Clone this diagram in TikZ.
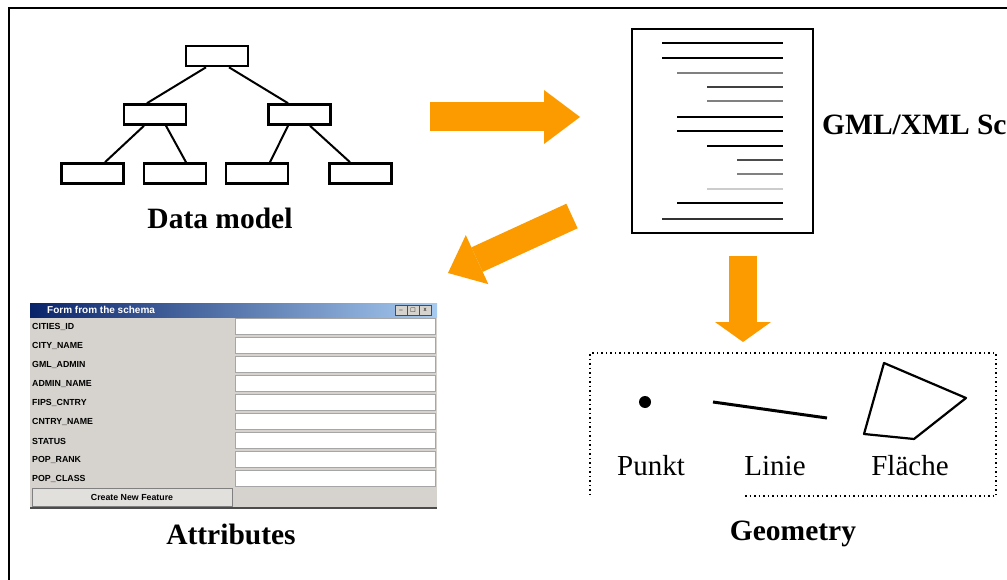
\documentclass[tikz,border=0pt]{standalone}
\usepackage{amssymb}
\usepackage{fontspec}
\setmainfont{Liberation Serif}
\newfontfamily\formfont{Liberation Sans}
\usetikzlibrary{arrows.meta}
\definecolor{arroworange}{RGB}{252,155,0}
\definecolor{formgray}{RGB}{214,211,206}
\definecolor{titleblue}{RGB}{10,36,106}
\definecolor{titlelight}{RGB}{166,202,240}

\begin{document}
\begin{tikzpicture}[x=1pt,y=-1pt,
  treebox/.style={draw, line width=2.6pt, minimum width=62pt, minimum height=20pt, inner sep=0pt},
  treeline/.style={line width=2pt},
  caption/.style={font=\fontsize{29.5}{32}\selectfont\bfseries, inner sep=0pt},
  geolabel/.style={font=\fontsize{29}{32}\selectfont, inner sep=0pt},
  fatarrow/.style n args={3}{draw=arroworange, line width=#1, -{Triangle[length=#2, width=#3, line width=0pt]}},
  formtext/.style={font=\formfont\fontsize{8.8}{9}\selectfont\bfseries, inner sep=0pt},
  textfield/.style={draw=gray!70, fill=white, line width=0.8pt}]
			\useasboundingbox (0,0) rectangle (1007,580);
			\clip (0,0) rectangle (1007,580);
			\draw [line width=2pt] (9,580) -- (9,8) -- (1007,8);

			\node [treebox] (root) at (217,56) {};
			\node [treebox] (midl) at (155,114.5) {};
			\node [treebox] (midr) at (299.5,114.5) {};
			\node [treebox] (leafa) at (92.5,173.5) {};
			\node [treebox] (leafb) at (175,173.5) {};
			\node [treebox] (leafc) at (257,173.5) {};
			\node [treebox] (leafd) at (360.5,173.5) {};
			\draw [treeline] ([xshift=-11pt]root.south) -- ([xshift=-8pt]midl.north);
			\draw [treeline] ([xshift=12pt]root.south) -- ([xshift=-11.5pt]midr.north);
			\draw [treeline] ([xshift=-11pt]midl.south) -- ([xshift=12.5pt]leafa.north);
			\draw [treeline] ([xshift=11pt]midl.south) -- ([xshift=11pt]leafb.north);
			\draw [treeline] ([xshift=-11.5pt]midr.south) -- ([xshift=13pt]leafc.north);
			\draw [treeline] ([xshift=10.5pt]midr.south) -- ([xshift=-10.5pt]leafd.north);
			\node [caption] (datamodel) at (220,218) {Data model};

			\node [draw, line width=2pt, minimum width=181pt, minimum height=204pt, inner sep=0pt] (schema) at (722.5,131) {};
			\foreach \y/\xs/\c/\w in {43/662/black/2.4, 58/662/black/1.8, 73/677/gray/2, 87/707/black!75/2.4,
				101/707/gray/2, 117/677/black/2.2, 131/677/black/1.8, 146/707/black/2, 160/737/black!70/2.2,
				174/737/gray/2, 189/707/gray!40/2, 203/677/black/2.4, 219/662/black!80/2}
				\draw [\c, line width=\w pt] (\xs,\y) -- (783,\y);
			\node [caption, anchor=west] (gmltext) at (822,124) {GML/XML Schema};

			\coordinate (modelout) at (430,117);
			\coordinate (schemain) at (580,117);
			\coordinate (schemaout) at (572,216);
			\coordinate (formin) at (448,273);
			\coordinate (geomout) at (743,256);
			\coordinate (geomin) at (743,342);
			\draw [fatarrow={29pt}{36pt}{54pt}] (modelout) -- (schemain);
			\draw [fatarrow={27pt}{32pt}{54pt}] (schemaout) -- (formin);
			\draw [fatarrow={28pt}{20pt}{56pt}] (geomout) -- (geomin);

			\fill [formgray] (30,303) rectangle (437,508);
			\shade [left color=titleblue, right color=titlelight] (30,303) rectangle (437,317);
			\node [formtext, text=white, anchor=west, font=\formfont\fontsize{10}{10}\selectfont\bfseries] (formtitle) at (47,310) {Form from the schema};
			\foreach \bx/\sym in {395/\_, 407/$\square$, 419/x}
				\node [draw=gray!60!black, fill=formgray, minimum width=12pt, minimum height=10pt, inner sep=0pt,
					font=\formfont\fontsize{6}{6}\selectfont] at (\bx+6,310) {\sym};
			\foreach \lbl [count=\i from 0] in {CITIES\_ID, CITY\_NAME, GML\_ADMIN, ADMIN\_NAME, FIPS\_CNTRY,
				CNTRY\_NAME, STATUS, POP\_RANK, POP\_CLASS} {
				\node [formtext, anchor=west] (field\i) at (32,327+19*\i) {\lbl};
				\draw [textfield] (235,318+19*\i) rectangle (435,334+19*\i);
			}
			\node [formtext, draw=gray, fill=formgray!70!white, minimum width=200pt, minimum height=18pt] (createbtn) at (132,497) {Create New Feature};
			\draw [gray!60!black, line width=1.5pt] (30,508) -- (437,508);
			\node [caption] (attributes) at (231,534) {Attributes};

			\draw [dash pattern=on 1.5pt off 3pt, line width=1.4pt] (745,496) -- (996,496) -- (996,353) -- (590,353) -- (590,496);
			\fill (645,402) circle (6pt);
			\draw [line width=3pt] (713,402) -- (827,418);
			\draw [line width=2.2pt, line join=round] (884,363) -- (966,398) -- (914,439) -- (864,434) -- cycle;
			\node [geolabel] (punkt) at (651,466) {Punkt};
			\node [geolabel] (linie) at (775,466) {Linie};
			\node [geolabel] (flaeche) at (910,466) {Fläche};
			\node [caption] (geometry) at (793,534) {Geometry};
\end{tikzpicture}
\end{document}
